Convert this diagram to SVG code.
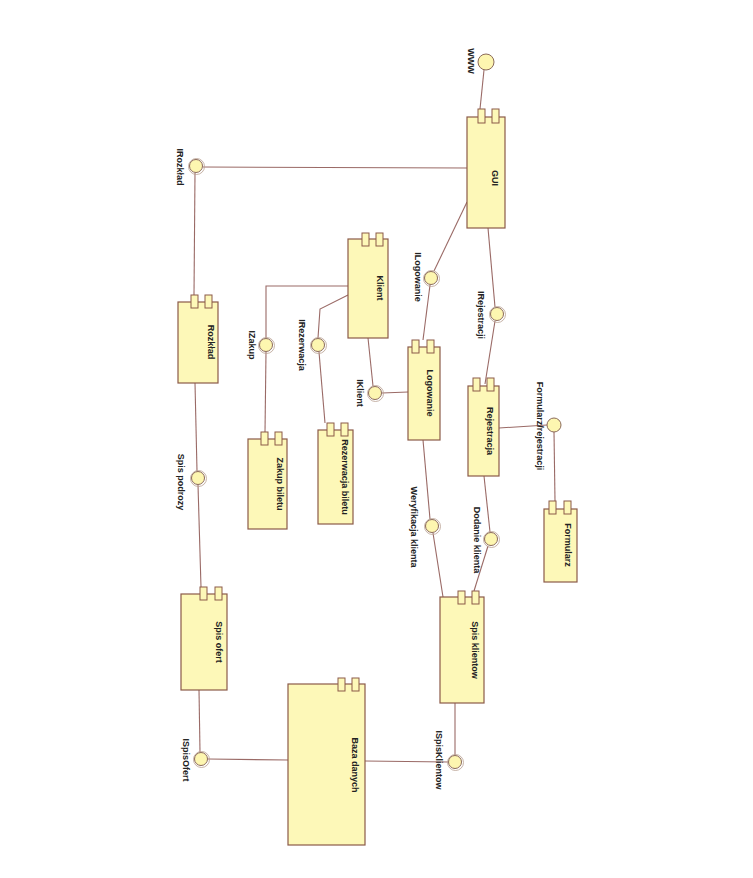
<svg xmlns="http://www.w3.org/2000/svg" width="753" height="878" viewBox="0 0 753 878">
<style>
.box{fill:#fdf8b8;stroke:#8b5a48;stroke-width:1.2}
.port{fill:#fdf8b8;stroke:#8b5a48;stroke-width:1}
.ln{fill:none;stroke:#9a6a66;stroke-width:1.1}
.ifc{fill:#fdf6b0;stroke:#8b6a5a;stroke-width:1}
.sock{fill:none;stroke:#b8a090;stroke-width:0.8}
.lbl{font-family:"Liberation Sans",Arial,sans-serif;font-size:9px;font-weight:bold;fill:#222;text-anchor:middle}
</style>
<rect width="753" height="878" fill="#fff"/>
<g id="connectors">
<polyline class="ln" points="484,70 480,109"/>
<polyline class="ln" points="467,168 203,167"/>
<polyline class="ln" points="195,173 194,295"/>
<polyline class="ln" points="195,383 197,471"/>
<polyline class="ln" points="198,485 201,587"/>
<polyline class="ln" points="199,690 200,752"/>
<polyline class="ln" points="208,759 288,760"/>
<polyline class="ln" points="365,761 448,762"/>
<polyline class="ln" points="455,703 455,755"/>
<polyline class="ln" points="467,202 434,271"/>
<polyline class="ln" points="430,285 423,340"/>
<polyline class="ln" points="488,228 495,307"/>
<polyline class="ln" points="495,321 485,384"/>
<polyline class="ln" points="499,428 547,425"/>
<polyline class="ln" points="554,432 555,501"/>
<polyline class="ln" points="423,440 430,519"/>
<polyline class="ln" points="433,533 443,597"/>
<polyline class="ln" points="484,476 490,532"/>
<polyline class="ln" points="488,546 474,591"/>
<polyline class="ln" points="348,286 266,286 266,338"/>
<polyline class="ln" points="266,352 265,432"/>
<polyline class="ln" points="348,295 320,309 318,338"/>
<polyline class="ln" points="319,352 325,423"/>
<polyline class="ln" points="368,338 373,386"/>
<polyline class="ln" points="382,393 408,392"/>
</g>
<g id="interfaces">
<g id="if-www"><circle class="ifc" cx="486" cy="62" r="8"/><text class="lbl" transform="translate(468,61) rotate(90)">WWW</text></g>
<g id="if-irozklad"><circle class="sock" cx="196.5" cy="166.5" r="8"/><circle class="ifc" cx="196" cy="166" r="6.5"/><text class="lbl" transform="translate(177,167) rotate(90)">IRozkład</text></g>
<g id="if-spispodrozy"><circle class="sock" cx="198.5" cy="478.5" r="8"/><circle class="ifc" cx="198" cy="478" r="6.5"/><text class="lbl" transform="translate(178,482) rotate(90)">Spis podrozy</text></g>
<g id="if-ispisofert"><circle class="sock" cx="201.5" cy="759.5" r="8"/><circle class="ifc" cx="201" cy="759" r="6.5"/><text class="lbl" transform="translate(183,760) rotate(90)">ISpisOfert</text></g>
<g id="if-ispisklientow"><circle class="sock" cx="455.5" cy="762.5" r="8"/><circle class="ifc" cx="455" cy="762" r="6.5"/><text class="lbl" transform="translate(436,760) rotate(90)">ISpisKlientow</text></g>
<g id="if-ilogowanie"><circle class="sock" cx="431.5" cy="278.5" r="8"/><circle class="ifc" cx="431" cy="278" r="6.5"/><text class="lbl" transform="translate(415,277) rotate(90)">ILogowanie</text></g>
<g id="if-irejestracji"><circle class="sock" cx="497.5" cy="314.5" r="8"/><circle class="ifc" cx="497" cy="314" r="6.5"/><text class="lbl" transform="translate(478,315) rotate(90)">IRejestracji</text></g>
<g id="if-formularz"><circle class="ifc" cx="554" cy="425" r="7"/><text class="lbl" transform="translate(537,426) rotate(90)">Formularz/rejestracji</text></g>
<g id="if-weryfikacja"><circle class="sock" cx="432.5" cy="526.5" r="8"/><circle class="ifc" cx="432" cy="526" r="6.5"/><text class="lbl" transform="translate(411,527) rotate(90)">Weryfikacja klienta</text></g>
<g id="if-dodanie"><circle class="sock" cx="491.5" cy="539.5" r="8"/><circle class="ifc" cx="491" cy="539" r="6.5"/><text class="lbl" transform="translate(474,540) rotate(90)">Dodanie klienta</text></g>
<g id="if-izakup"><circle class="sock" cx="266.5" cy="345.5" r="8"/><circle class="ifc" cx="266" cy="345" r="6.5"/><text class="lbl" transform="translate(249,345) rotate(90)">IZakup</text></g>
<g id="if-irezerwacja"><circle class="sock" cx="318.5" cy="345.5" r="8"/><circle class="ifc" cx="318" cy="345" r="6.5"/><text class="lbl" transform="translate(299,345) rotate(90)">IRezerwacja</text></g>
<g id="if-iklient"><circle class="sock" cx="375.5" cy="393.5" r="8"/><circle class="ifc" cx="375" cy="393" r="6.5"/><text class="lbl" transform="translate(357,393) rotate(90)">IKlient</text></g>
</g>
<g id="node-gui"><rect class="box" x="467" y="117" width="38" height="111"/><rect class="port" x="478" y="109" width="7" height="14"/><rect class="port" x="492" y="109" width="7" height="14"/><text class="lbl" transform="translate(492,178) rotate(90)">GUI</text></g>
<g id="node-rozklad"><rect class="box" x="178" y="302" width="40" height="81"/><rect class="port" x="191" y="295" width="7" height="13"/><rect class="port" x="205" y="295" width="7" height="13"/><text class="lbl" transform="translate(208,342) rotate(90)">Rozkład</text></g>
<g id="node-spisofert"><rect class="box" x="181" y="594" width="46" height="96"/><rect class="port" x="200" y="587" width="7" height="13"/><rect class="port" x="215" y="587" width="7" height="13"/><text class="lbl" transform="translate(216,642) rotate(90)">Spis ofert</text></g>
<g id="node-baza"><rect class="box" x="288" y="684" width="77" height="161"/><rect class="port" x="338" y="678" width="7" height="13"/><rect class="port" x="352" y="678" width="7" height="13"/><text class="lbl" transform="translate(352,765) rotate(90)">Baza danych</text></g>
<g id="node-spisklientow"><rect class="box" x="440" y="597" width="44" height="106"/><rect class="port" x="458" y="591" width="7" height="13"/><rect class="port" x="472" y="591" width="7" height="13"/><text class="lbl" transform="translate(472,650) rotate(90)">Spis klientow</text></g>
<g id="node-logowanie"><rect class="box" x="408" y="347" width="32" height="93"/><rect class="port" x="412" y="340" width="7" height="13"/><rect class="port" x="427" y="340" width="7" height="13"/><text class="lbl" transform="translate(427,393) rotate(90)">Logowanie</text></g>
<g id="node-rejestracja"><rect class="box" x="468" y="386" width="31" height="90"/><rect class="port" x="473" y="378" width="7" height="13"/><rect class="port" x="487" y="378" width="7" height="13"/><text class="lbl" transform="translate(487,431) rotate(90)">Rejestracja</text></g>
<g id="node-formularz"><rect class="box" x="544" y="509" width="33" height="73"/><rect class="port" x="549" y="501" width="7" height="13"/><rect class="port" x="564" y="501" width="7" height="13"/><text class="lbl" transform="translate(565,545) rotate(90)">Formularz</text></g>
<g id="node-klient"><rect class="box" x="348" y="239" width="40" height="99"/><rect class="port" x="362" y="233" width="7" height="13"/><rect class="port" x="376" y="233" width="7" height="13"/><text class="lbl" transform="translate(377,288) rotate(90)">Klient</text></g>
<g id="node-zakup"><rect class="box" x="248" y="439" width="39" height="90"/><rect class="port" x="261" y="432" width="7" height="13"/><rect class="port" x="275" y="432" width="7" height="13"/><text class="lbl" transform="translate(277,484) rotate(90)">Zakup biletu</text></g>
<g id="node-rezerwacja"><rect class="box" x="318" y="430" width="35" height="94"/><rect class="port" x="327" y="423" width="7" height="13"/><rect class="port" x="341" y="423" width="7" height="13"/><text class="lbl" transform="translate(342,477) rotate(90)">Rezerwacja biletu</text></g>
</svg>
